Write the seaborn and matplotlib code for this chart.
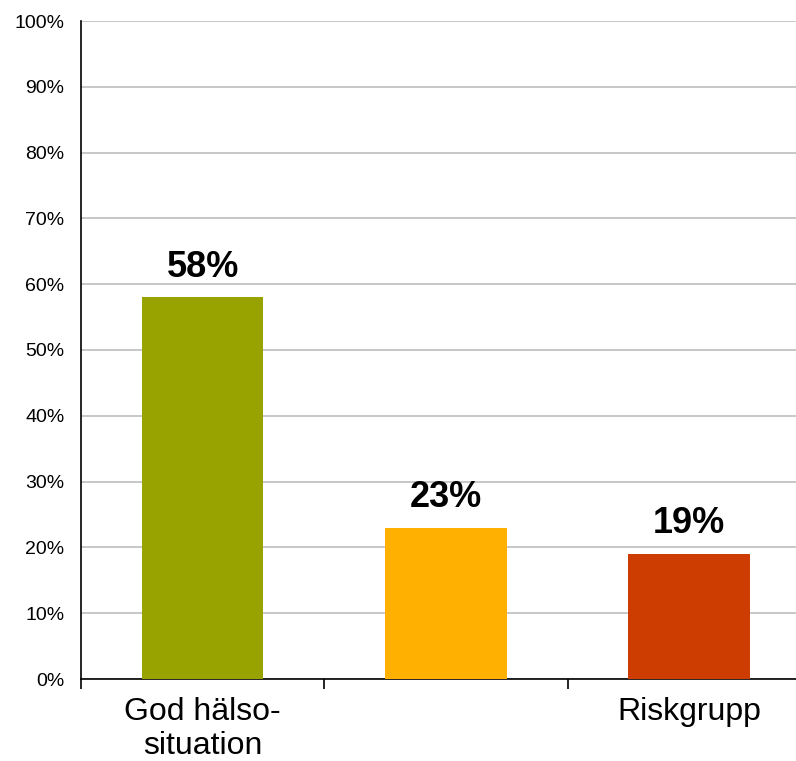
import pandas as pd
import matplotlib.pyplot as plt
import seaborn as sns

# Data
categories = ["God hälso-\nsituation", "", "Riskgrupp"]
values = [58, 23, 19]
colors = ["#99A300", "#FFB000", "#CD3C00"]

df = pd.DataFrame({"kategori": ["a", "b", "c"], "andel": values})

sns.set_style("white")
plt.rcParams["font.family"] = ["Liberation Sans", "DejaVu Sans"]
plt.rcParams["text.color"] = "black"
plt.rcParams["xtick.color"] = "black"
plt.rcParams["ytick.color"] = "black"

fig = plt.figure(figsize=(7.96, 7.61), dpi=100)
ax = fig.add_axes([81 / 796, 1 - 679 / 761, 1 - 81 / 796, (679 - 21) / 761])

sns.barplot(data=df, x="kategori", y="andel", hue="kategori",
            palette=colors, width=0.5, saturation=1, legend=False, ax=ax,
            zorder=3, linewidth=0)

# value labels above bars
for i, v in enumerate(values):
    ax.annotate(f"{v}%", (i, v), xytext=(0, 9), textcoords="offset points",
                ha="center", va="bottom", fontsize=26, fontweight="bold")

ax.set_yticks(range(0, 101, 10))
ax.set_yticklabels([f"{t}%" for t in range(0, 101, 10)])
ax.yaxis.grid(True, color="#BDBDBD", linewidth=1.2, zorder=0)
ax.set_axisbelow(True)

ax.set_xticks([0, 1, 2])
ax.set_xticklabels(categories, fontsize=23, linespacing=1.18)
ax.set_xticks([-0.5, 0.5, 1.5, 2.5], minor=True)
ax.tick_params(axis="x", which="major", bottom=True, length=0, pad=13)
ax.tick_params(axis="x", which="minor", bottom=True, length=7, width=1.2,
               color="black", direction="out")
ax.tick_params(axis="y", length=0, pad=12, labelsize=14)

ax.set_ylim(0, 100)
ax.set_xlim(-0.5, -0.5 + 715 / 243.3)

ax.set_xlabel("")
ax.set_ylabel("")
for s in ["top", "right"]:
    ax.spines[s].set_visible(False)
for s in ["left", "bottom"]:
    ax.spines[s].set_color("black")
    ax.spines[s].set_linewidth(1.2)

fig.savefig("out.png", dpi=100)
